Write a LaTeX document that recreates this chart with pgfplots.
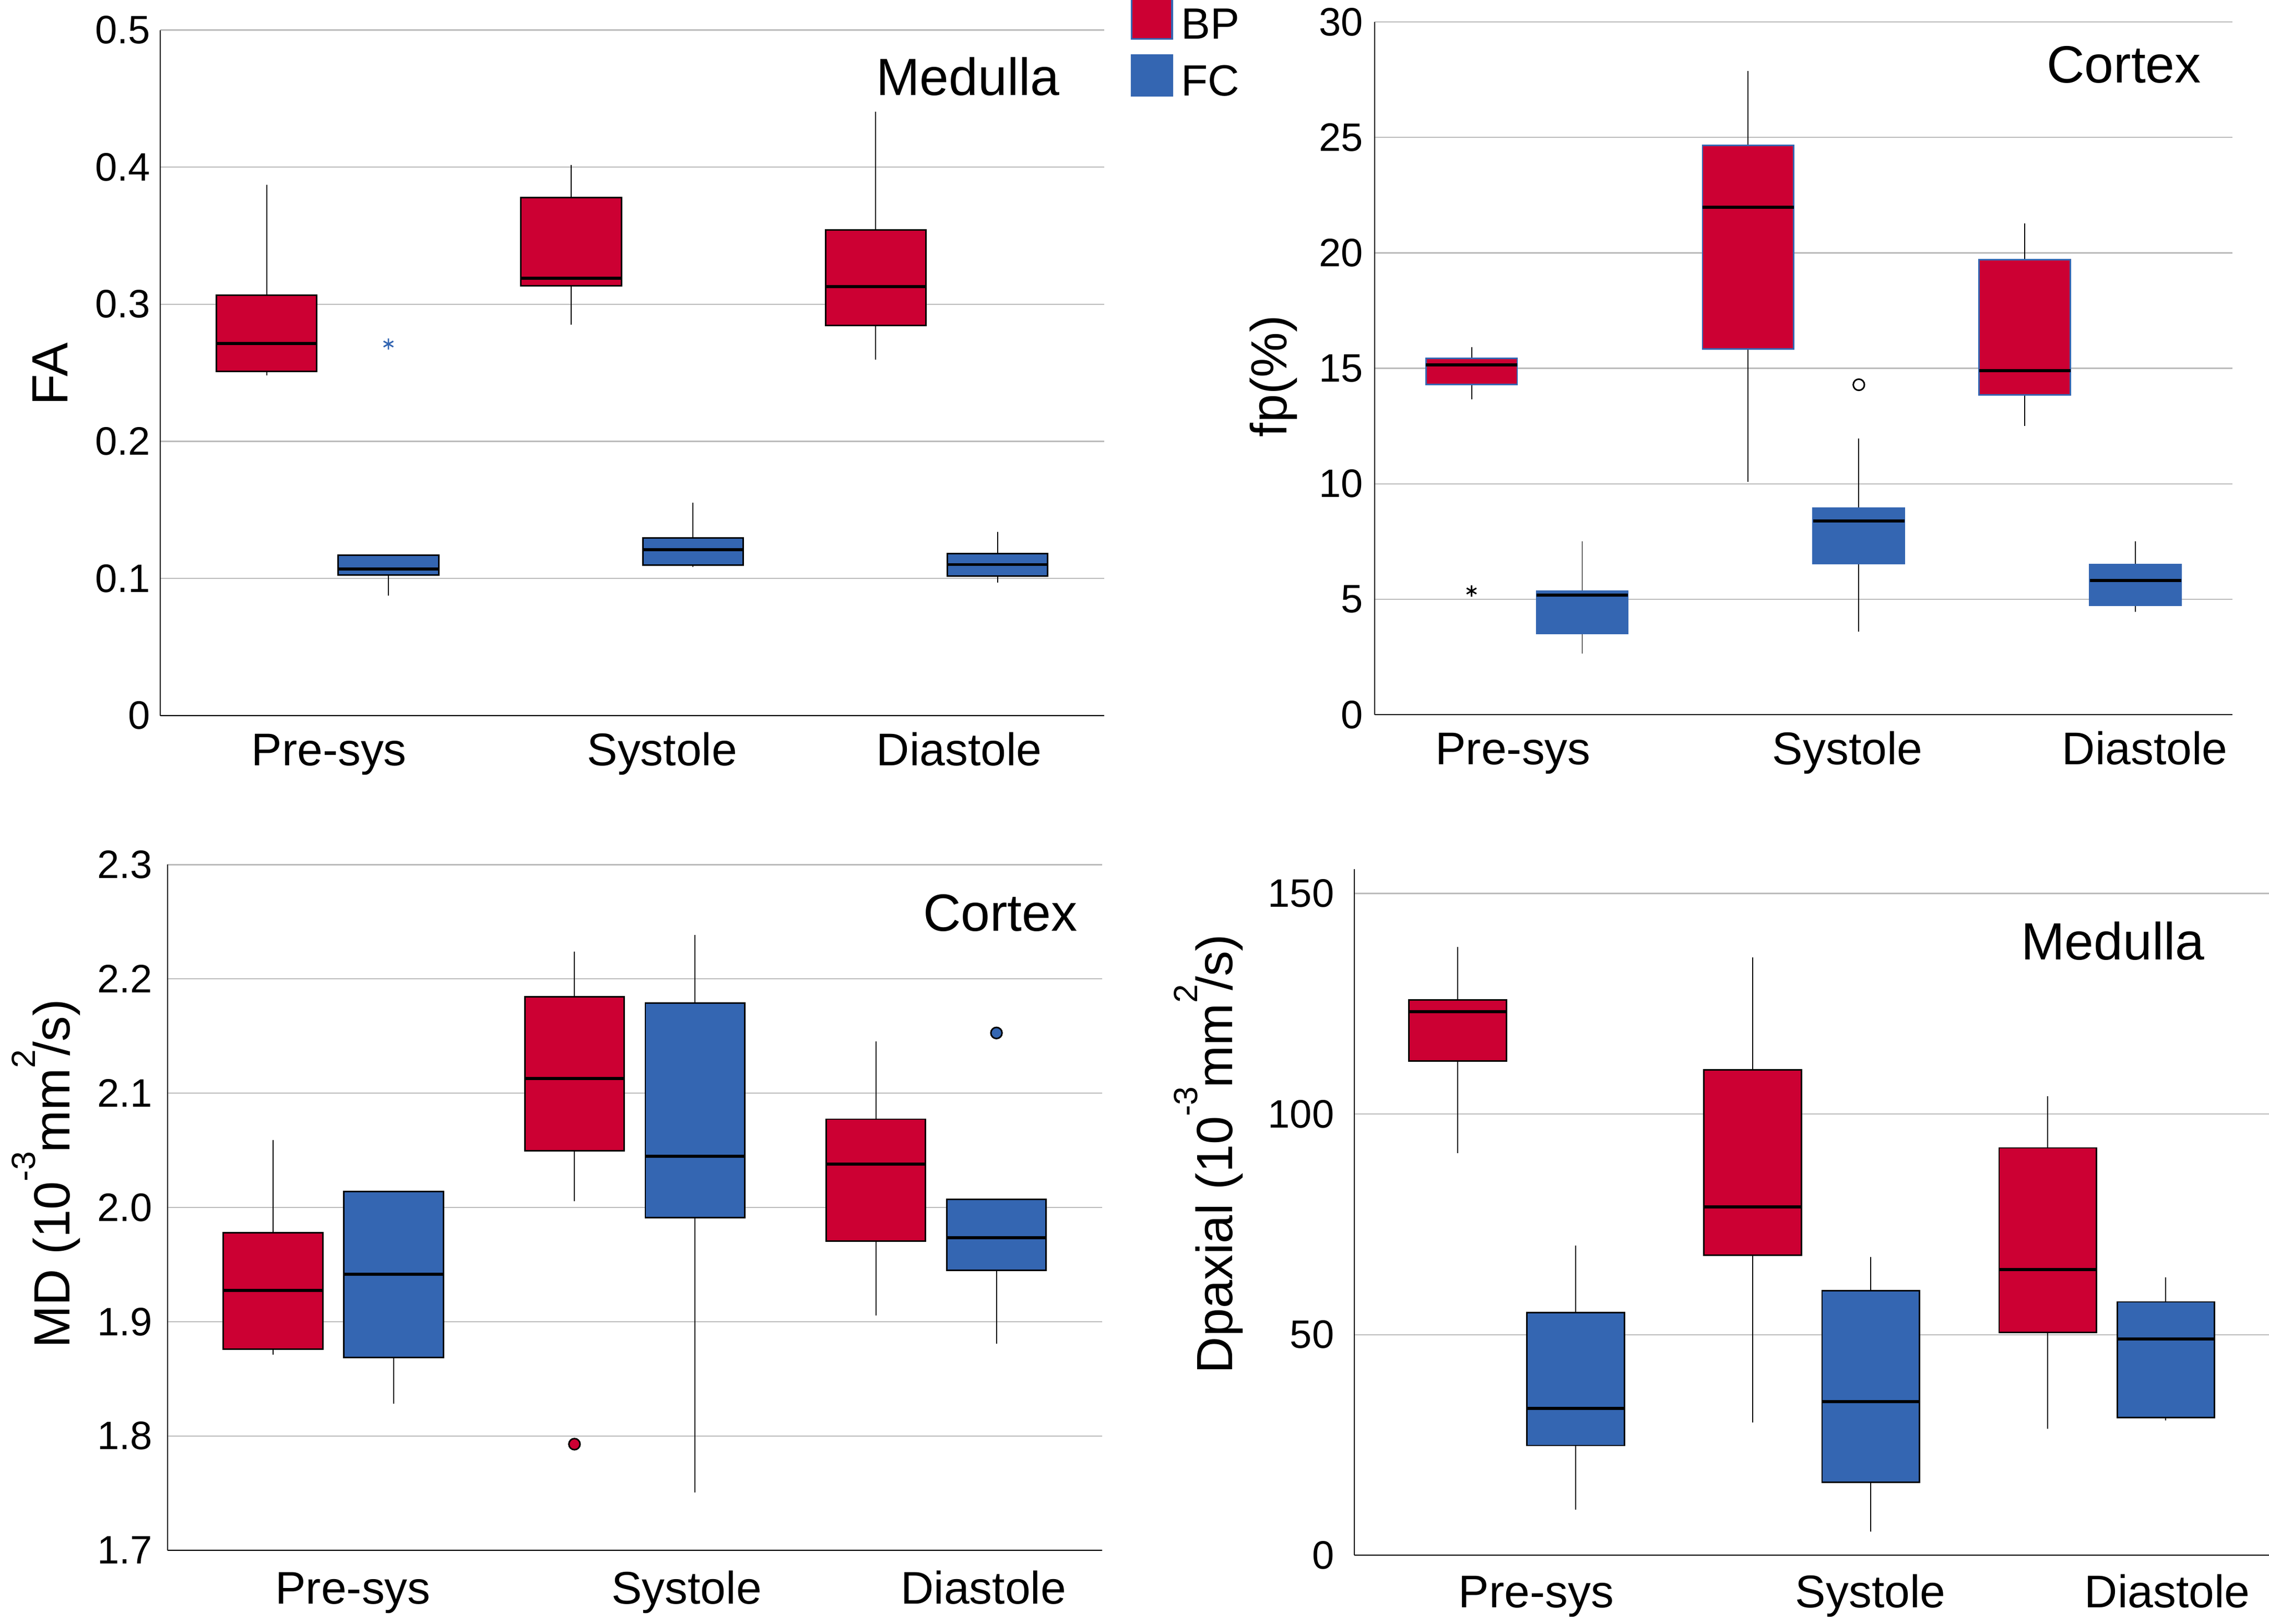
\documentclass[border=0pt]{standalone}
\usepackage{pgfplots}
\pgfplotsset{compat=1.18}
\usepgfplotslibrary{statistics}
\usepackage{fontspec}
\setmainfont{Liberation Sans}
\definecolor{bpred}{RGB}{204,0,51}
\definecolor{fcblue}{RGB}{52,102,178}
\definecolor{gridgray}{RGB}{187,187,187}
\newcommand\tickfont{\fontsize{7.8}{9}\selectfont}
\newcommand\catfont{\fontsize{9}{10}\selectfont}
\newcommand\titfont{\fontsize{10.3}{12}\selectfont}
\newcommand\labfont{\fontsize{10}{12}\selectfont}
\newcommand\sups[1]{\raisebox{2.4mm}{\fontsize{6.6}{7}\selectfont #1}}
\pgfplotsset{
  panel/.style={
    scale only axis, xmin=-0.55, xmax=2.55, clip=false,
    axis x line*=bottom, axis y line*=left,
    axis line style={-, black, line width=0.2pt},
    ymajorgrids, grid style={gridgray, line width=0.25pt},
    major tick length=0pt,
    xticklabels={Pre-sys,Systole,Diastole},
    xticklabel style={font=\catfont, anchor=base},
    yticklabel style={font=\tickfont, inner xsep=0pt},
    boxplot/draw direction=y,
    boxplot/box extend=0.33,
    boxplot/whisker extend=0,
    boxplot/every whisker/.style={draw=black, line width=0.2pt},
    boxplot/every median/.style={draw=black, line width=0.6pt},
    boxplot/every box/.style={line width=0.3pt},
  },
  bp/.style={fill=bpred, draw=black, mark=none, solid},
  fc/.style={fill=fcblue, draw=black, mark=none, solid},
}
\begin{document}
\begin{tikzpicture}
\useasboundingbox (0,0) rectangle (156.8mm,112.24mm);

% ---------------- Top left: FA Medulla
\begin{axis}[panel, at={(11.06mm,62.79mm)}, anchor=south west,
  width=65.24mm, height=47.37mm, ymin=0, ymax=0.5,
  ytick={0,0.1,0.2,0.3,0.4,0.5}, yticklabels={0,0.1,0.2,0.3,0.4,0.5},
  xtick={0.005,1.099,2.074},
  xticklabel style={yshift=-3.45mm}, yticklabel style={xshift=-1.7pt}]
\addplot[bp, boxplot prepared={draw position=-0.2, lower whisker=0.248, lower quartile=0.2509, median=0.2713, upper quartile=0.3067, upper whisker=0.387}] coordinates {};
\addplot[fc, boxplot prepared={draw position=0.2, lower whisker=0.0875, lower quartile=0.1025, median=0.1069, upper quartile=0.117, upper whisker=0.117}] coordinates {};
\addplot[bp, boxplot prepared={draw position=0.8, lower whisker=0.2852, lower quartile=0.3133, median=0.3191, upper quartile=0.3778, upper whisker=0.4015}] coordinates {};
\addplot[fc, boxplot prepared={draw position=1.2, lower whisker=0.1083, lower quartile=0.1098, median=0.1211, upper quartile=0.1295, upper whisker=0.1554}] coordinates {};
\addplot[bp, boxplot prepared={draw position=1.8, lower whisker=0.2597, lower quartile=0.2845, median=0.3129, upper quartile=0.3541, upper whisker=0.4405}] coordinates {};
\addplot[fc, boxplot prepared={draw position=2.2, lower whisker=0.097, lower quartile=0.1018, median=0.1101, upper quartile=0.1182, upper whisker=0.1338}] coordinates {};
\addplot[only marks, mark=asterisk, mark size=1.1pt, fcblue, line width=0.3pt] coordinates {(0.2,0.271)};
\node[anchor=base east, inner sep=0pt, font=\titfont] at (axis cs:2.407,0.4526) {Medulla};
\end{axis}

% ---------------- Top right: fp Cortex
\begin{axis}[panel, at={(95.0mm,62.84mm)}, anchor=south west,
  width=59.26mm, height=47.88mm, ymin=0, ymax=30,
  ytick={0,5,10,15,20,25,30}, yticklabels={0,5,10,15,20,25,30},
  xtick={-0.05,1.159,2.234},
  xticklabel style={yshift=-3.45mm}, yticklabel style={xshift=-2.1pt},
  legend style={at={(axis description cs:-0.2847,1.0355)}, anchor=north west,
    draw=none, fill=none, inner sep=0pt, outer sep=0pt, row sep=1.5pt,
    column sep=1.6pt, font=\fontsize{8.6}{9}\selectfont, nodes={inner sep=0pt}},
  legend cell align=left,
  legend image code/.code={\draw[#1, line width=0.35pt] (0mm,-2.2pt) rectangle (2.8mm,{2.8mm-2.2pt});}]
\addlegendimage{fill=bpred, draw=fcblue}
\addlegendentry{BP}
\addlegendimage{fill=fcblue, draw=fcblue}
\addlegendentry{FC}
\addplot[bp, draw=fcblue, boxplot prepared={draw position=-0.2, lower whisker=13.66, lower quartile=14.31, median=15.15, upper quartile=15.43, upper whisker=15.91}] coordinates {};
\addplot[fc, draw=fcblue, boxplot prepared={draw position=0.2, lower whisker=2.66, lower quartile=3.52, median=5.19, upper quartile=5.36, upper whisker=7.50}] coordinates {};
\addplot[bp, draw=fcblue, boxplot prepared={draw position=0.8, lower whisker=10.09, lower quartile=15.84, median=21.98, upper quartile=24.66, upper whisker=27.88}] coordinates {};
\addplot[fc, draw=fcblue, boxplot prepared={draw position=1.2, lower whisker=3.59, lower quartile=6.55, median=8.39, upper quartile=8.95, upper whisker=11.97}] coordinates {};
\addplot[bp, draw=fcblue, boxplot prepared={draw position=1.8, lower whisker=12.51, lower quartile=13.85, median=14.91, upper quartile=19.71, upper whisker=21.27}] coordinates {};
\addplot[fc, draw=fcblue, boxplot prepared={draw position=2.2, lower whisker=4.45, lower quartile=4.73, median=5.81, upper quartile=6.51, upper whisker=7.50}] coordinates {};
\addplot[only marks, mark=asterisk, mark size=1.1pt, black, line width=0.3pt] coordinates {(-0.2,5.36)};
\addplot[only marks, mark=o, mark size=1.1pt, black, line width=0.3pt] coordinates {(1.2,14.29)};
\node[anchor=base east, inner sep=0pt, font=\titfont] at (axis cs:2.441,27.37) {Cortex};
\end{axis}

% ---------------- Bottom left: MD Cortex
\begin{axis}[panel, at={(11.58mm,5.10mm)}, anchor=south west,
  width=64.57mm, height=47.38mm, ymin=1.7, ymax=2.3,
  ytick={1.7,1.8,1.9,2.0,2.1,2.2,2.3}, yticklabels={1.7,1.8,1.9,2.0,2.1,2.2,2.3},
  xtick={0.065,1.172,2.157},
  xticklabel style={yshift=-3.7mm}, yticklabel style={xshift=-2.8pt}]
\addplot[bp, boxplot prepared={draw position=-0.2, lower whisker=1.871, lower quartile=1.876, median=1.9275, upper quartile=1.978, upper whisker=2.059}] coordinates {};
\addplot[fc, boxplot prepared={draw position=0.2, lower whisker=1.8283, lower quartile=1.8688, median=1.9416, upper quartile=2.014, upper whisker=2.014}] coordinates {};
\addplot[bp, boxplot prepared={draw position=0.8, lower whisker=2.0053, lower quartile=2.0494, median=2.113, upper quartile=2.1845, upper whisker=2.224}] coordinates {};
\addplot[fc, boxplot prepared={draw position=1.2, lower whisker=1.7505, lower quartile=1.9912, median=2.0449, upper quartile=2.179, upper whisker=2.2387}] coordinates {};
\addplot[bp, boxplot prepared={draw position=1.8, lower whisker=1.9052, lower quartile=1.9707, median=2.038, upper quartile=2.0772, upper whisker=2.1454}] coordinates {};
\addplot[fc, boxplot prepared={draw position=2.2, lower whisker=1.8806, lower quartile=1.9448, median=1.9734, upper quartile=2.0071, upper whisker=2.0071}] coordinates {};
\addplot[only marks, mark=*, mark size=1.1pt, draw=black, fill=bpred, line width=0.3pt] coordinates {(0.8,1.7928)};
\addplot[only marks, mark=*, mark size=1.1pt, draw=black, fill=fcblue, line width=0.3pt] coordinates {(2.2,2.1527)};
\node[anchor=base east, inner sep=0pt, font=\titfont] at (axis cs:2.472,2.242) {Cortex};
\end{axis}

% ---------------- Bottom right: Dpaxial Medulla
\begin{axis}[panel, at={(93.6mm,4.75mm)}, anchor=south west,
  width=63.2mm, height=47.41mm, ymin=0, ymax=155.5,
  ytick={0,50,100,150}, yticklabels={0,50,100,150},
  xtick={0.066,1.199,2.205},
  xticklabel style={yshift=-3.6mm}, yticklabel style={xshift=-3.8pt}]
\addplot[bp, boxplot prepared={draw position=-0.2, lower whisker=91.16, lower quartile=112.0, median=123.2, upper quartile=125.9, upper whisker=137.85}] coordinates {};
\addplot[fc, boxplot prepared={draw position=0.2, lower whisker=10.38, lower quartile=24.88, median=33.25, upper quartile=54.95, upper whisker=70.17}] coordinates {};
\addplot[bp, boxplot prepared={draw position=0.8, lower whisker=30.07, lower quartile=68.04, median=79.0, upper quartile=110.0, upper whisker=135.5}] coordinates {};
\addplot[fc, boxplot prepared={draw position=1.2, lower whisker=5.31, lower quartile=16.51, median=34.79, upper quartile=60.02, upper whisker=67.57}] coordinates {};
\addplot[bp, boxplot prepared={draw position=1.8, lower whisker=28.66, lower quartile=50.47, median=64.74, upper quartile=92.33, upper whisker=104.0}] coordinates {};
\addplot[fc, boxplot prepared={draw position=2.2, lower whisker=30.55, lower quartile=31.25, median=49.06, upper quartile=57.43, upper whisker=62.97}] coordinates {};
\node[anchor=base east, inner sep=0pt, font=\titfont] at (axis cs:2.335,135.0) {Medulla};
\end{axis}

% ---------------- axis labels
\node[rotate=90, anchor=base west, inner sep=0pt, font=\labfont] at (4.66mm,84.17mm) {FA};
\node[rotate=90, anchor=base west, inner sep=0pt, font=\labfont] at (88.9mm,81.97mm) {fp(\%)};
\node[rotate=90, anchor=base west, inner sep=0pt, font=\labfont] at (4.82mm,19.0mm) {MD (10\sups{-3}\kern-0.3pt mm\sups{2}\kern-1.2pt/s)};
\node[rotate=90, anchor=base west, inner sep=0pt, font=\labfont] at (85.16mm,17.24mm) {Dpaxial (10\sups{-3}\kern-0.3pt mm\sups{2}\kern-1.2pt/s)};
\end{tikzpicture}
\end{document}
